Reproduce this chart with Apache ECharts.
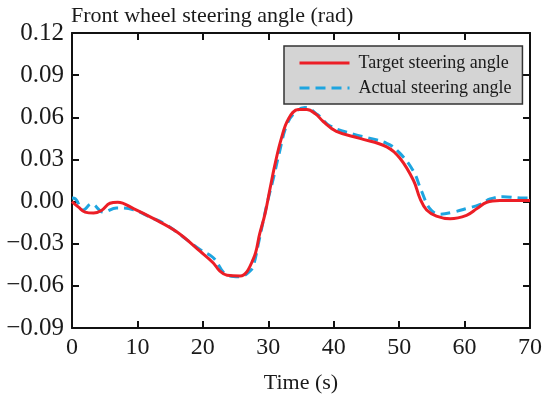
<!DOCTYPE html>
<html>
<head>
<meta charset="utf-8">
<script src="https://cdn.jsdelivr.net/npm/echarts@6/dist/echarts.min.js"></script>
<style>html,body{margin:0;padding:0;background:#fff;}#c{width:550px;height:399px;}</style>
</head>
<body>
<div id="c"></div>
<script>
var seriesNames = ['Target steering angle', 'Actual steering angle'];
var xTicks = [0, 10, 20, 30, 40, 50, 60, 70];
var yTicks = [-0.09, -0.06, -0.03, 0.00, 0.03, 0.06, 0.09, 0.12];

var tTarget = [0, 1, 2, 3.3, 4.5, 5.8, 7, 9.4, 12.4, 16, 19.6, 21.6, 22.5, 23.7, 25.7, 27.7, 28.7, 29.5, 30.3, 31, 32, 33.1, 34.6, 35.9, 37.2, 38.4, 40.4, 44, 48.1, 50.1, 52.2, 53.2, 54.2, 55.7, 57.8, 60.3, 61.9, 63.4, 65.4, 70];
var vTarget = [0, -0.004, -0.0075, -0.0082, -0.0063, -0.0012, -0.0005, -0.005, -0.012, -0.0215, -0.0355, -0.0437, -0.049, -0.0525, -0.053, -0.041, -0.0227, -0.0087, 0.010, 0.026, 0.045, 0.059, 0.0655, 0.0655, 0.0625, 0.057, 0.050, 0.045, 0.039, 0.031, 0.015, 0.002, -0.006, -0.0103, -0.0122, -0.0098, -0.005, -0.0005, 0.0007, 0.0007];

var tActual = [0, 0.5, 1.7, 3, 4.8, 6.8, 9.4, 11.9, 14.5, 19.6, 21.6, 23.6, 25.7, 27.2, 27.7, 28.5, 29.8, 30.8, 31.7, 32.7, 33.8, 35.6, 37.5, 39.4, 43, 48.1, 50.1, 52.2, 53.4, 54.7, 56.2, 58.3, 60.3, 62.4, 63.9, 65.9, 68.9, 70];
var vActual = [0.0025, 0.002, -0.006, -0.0017, -0.0075, -0.0045, -0.0059, -0.011, -0.0168, -0.0343, -0.040, -0.052, -0.0535, -0.0495, -0.046, -0.0297, -0.0017, 0.017, 0.035, 0.053, 0.062, 0.067, 0.062, 0.054, 0.048, 0.0415, 0.0345, 0.0215, 0.0077, -0.005, -0.009, -0.0075, -0.005, -0.002, 0.0018, 0.0035, 0.0025, 0.0025];

function pairs(t, v) { return t.map(function (x, i) { return [x, v[i]]; }); }

var FONT = 'Liberation Serif';
var chart = echarts.init(document.getElementById('c'), null, {renderer: 'canvas'});
var axisLine = {show: true, onZero: false, lineStyle: {color: '#111', width: 2}};
var axisTick = {show: true, inside: true, length: 7, lineStyle: {color: '#111', width: 2}};
function fmtY(v) { return v.toFixed(2).replace('-', '\u2212'); }

chart.setOption({
  animation: false,
  backgroundColor: '#fff',
  title: {
    text: 'Front wheel steering angle (rad)',
    left: 66, top: 0,
    textStyle: {fontFamily: FONT, fontSize: 22, fontWeight: 'normal', color: '#1a1a1a'}
  },
  grid: {left: 72, right: 20, top: 33, bottom: 66, containLabel: false},
  legend: {
    orient: 'vertical',
    left: 284, top: 46,
    backgroundColor: '#d4d4d4',
    borderColor: '#333', borderWidth: 1.5, borderRadius: 0,
    padding: [8, 11, 7, 14],
    itemWidth: 50, itemHeight: 18, itemGap: 7,
    itemStyle: {opacity: 0},
    lineStyle: {width: 3},
    textStyle: {fontFamily: FONT, fontSize: 18, color: '#1a1a1a', padding: [0, 0, 0, 4]},
    data: seriesNames
  },
  xAxis: [{
    type: 'value', position: 'bottom', min: xTicks[0], max: xTicks[xTicks.length - 1], interval: 10,
    axisLine: axisLine, axisTick: axisTick, splitLine: {show: false},
    axisLabel: {fontFamily: FONT, fontSize: 24, color: '#1a1a1a', margin: 8},
    name: 'Time (s)', nameLocation: 'middle', nameGap: 44,
    nameTextStyle: {fontFamily: FONT, fontSize: 22, color: '#1a1a1a'}
  }, {
    type: 'value', position: 'top', min: xTicks[0], max: xTicks[xTicks.length - 1], interval: 10,
    axisLine: axisLine, axisTick: axisTick, splitLine: {show: false}, axisLabel: {show: false}
  }],
  yAxis: [{
    type: 'value', position: 'left', min: yTicks[0], max: yTicks[yTicks.length - 1], interval: 0.03,
    axisLine: axisLine, axisTick: axisTick, splitLine: {show: false},
    axisLabel: {fontFamily: FONT, fontSize: 25, color: '#1a1a1a', margin: 8, formatter: fmtY}
  }, {
    type: 'value', position: 'right', min: yTicks[0], max: yTicks[yTicks.length - 1], interval: 0.03,
    axisLine: axisLine, axisTick: axisTick, splitLine: {show: false}, axisLabel: {show: false}
  }],
  series: [{
    name: seriesNames[0], type: 'line', xAxisIndex: 0, yAxisIndex: 0,
    data: pairs(tTarget, vTarget), smooth: 0.4, symbol: 'none',
    lineStyle: {color: '#ec1e26', width: 3}, itemStyle: {color: '#ec1e26'}, z: 3
  }, {
    name: seriesNames[1], type: 'line', xAxisIndex: 0, yAxisIndex: 0,
    data: pairs(tActual, vActual), smooth: 0.4, symbol: 'none',
    lineStyle: {color: '#1ea5e0', width: 3, type: [10, 6]}, itemStyle: {color: '#1ea5e0'}, z: 2
  }]
});
</script>
</body>
</html>
